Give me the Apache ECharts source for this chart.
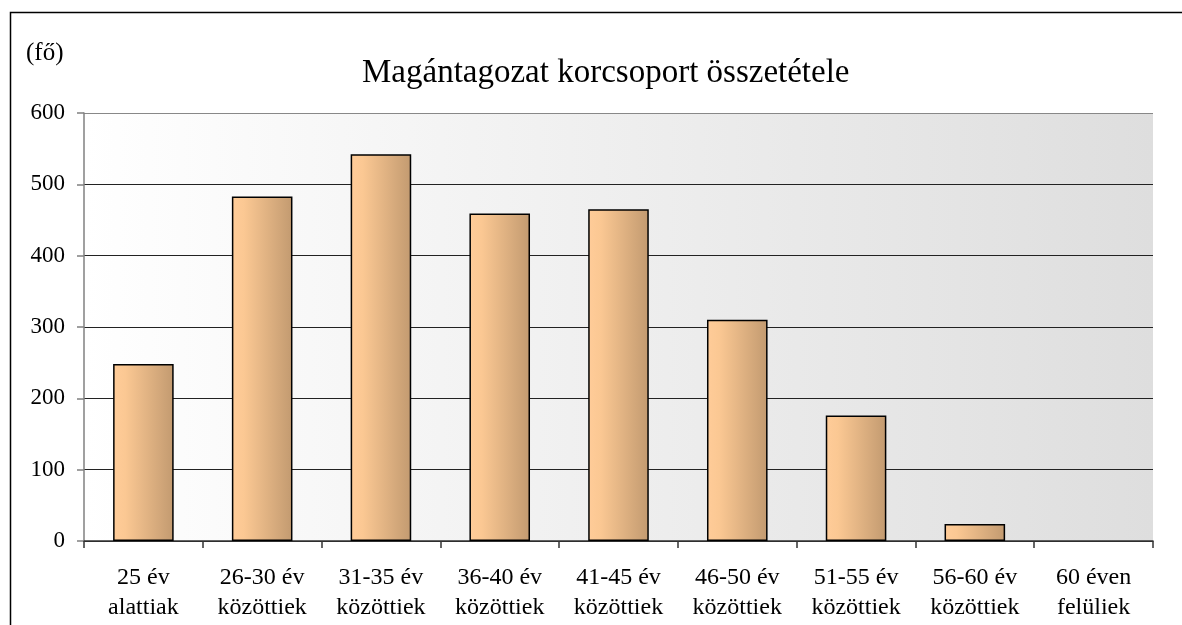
<!DOCTYPE html>
<html>
<head>
<meta charset="utf-8">
<script src="https://cdn.jsdelivr.net/npm/echarts@6/dist/echarts.min.js"></script>
<style>
html,body{margin:0;padding:0;background:#fff;}
#chart{width:1182px;height:625px;}
</style>
</head>
<body>
<div id="chart"></div>
<script>
const categories = ['25 év\nalattiak','26-30 év\nközöttiek','31-35 év\nközöttiek','36-40 év\nközöttiek','41-45 év\nközöttiek','46-50 év\nközöttiek','51-55 év\nközöttiek','56-60 év\nközöttiek','60 éven\nfelüliek'];
const values = [248, 483, 542, 459, 465, 310, 176, 24, 0];
const titleText = 'Magántagozat korcsoport összetétele';
const unitText = '(fő)';
const yMin = 0, yMax = 600, yInterval = 100;

const FONT = '"Liberation Serif","Times New Roman",serif';
const chart = echarts.init(document.getElementById('chart'));
chart.setOption({
  animation: false,
  backgroundColor: '#ffffff',
  title: [
    {text: titleText, left: 362, top: 57, padding: 0,
     textStyle: {fontFamily: FONT, fontSize: 33, fontWeight: 'normal', color: '#000', lineHeight: 33}},
    {text: unitText, left: 26, top: 41, padding: 0,
     textStyle: {fontFamily: FONT, fontSize: 25, fontWeight: 'normal', color: '#000', lineHeight: 25}}
  ],
  graphic: [{
    type: 'rect', left: 8, top: 10, z: -1, silent: true,
    shape: {width: 1200, height: 700},
    style: {fill: 'none', stroke: '#000', lineWidth: 1.5}
  }],
  grid: {
    left: 84, right: 29, top: 113, bottom: 84,
    show: true, borderWidth: 0,
    backgroundColor: new echarts.graphic.LinearGradient(0, 0, 1, 0, [
      {offset: 0, color: '#ffffff'}, {offset: 1, color: '#dedede'}
    ])
  },
  xAxis: {
    type: 'category', data: categories, boundaryGap: true,
    axisLine: {lineStyle: {color: '#333', width: 1.5}},
    axisTick: {show: true, length: 7, alignWithLabel: false, lineStyle: {color: '#333', width: 1.5}},
    axisLabel: {interval: 0, margin: 22, fontFamily: FONT, fontSize: 24, lineHeight: 30, color: '#000'}
  },
  yAxis: {
    type: 'value', min: yMin, max: yMax, interval: yInterval,
    axisLine: {show: true, lineStyle: {color: '#808080', width: 1.5}},
    axisTick: {show: true, length: 7, lineStyle: {color: '#808080', width: 1.5}},
    axisLabel: {margin: 19, fontFamily: FONT, fontSize: 23, color: '#000'},
    splitLine: {show: true, lineStyle: {color: ['#222','#222','#222','#222','#222','#222','#888'], width: 1.2}}
  },
  series: [{
    type: 'bar', barWidth: '51%',
    data: values.map(v => v === 0 ? {value: v, itemStyle: {borderWidth: 0}} : v),
    itemStyle: {
      color: new echarts.graphic.LinearGradient(0, 0, 1, 0, [
        {offset: 0, color: '#FFCC99'}, {offset: 0.2, color: '#FBC893'}, {offset: 1, color: '#C29A70'}
      ]),
      borderColor: '#000', borderWidth: 1.5
    }
  }]
});
</script>
</body>
</html>
